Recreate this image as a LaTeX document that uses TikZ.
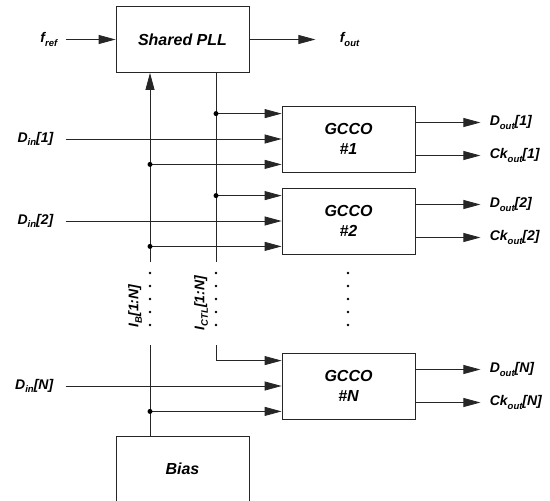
\documentclass[tikz,border=0pt]{standalone}
\usepackage{fontspec}
\setmainfont{Liberation Sans}
\usetikzlibrary{arrows.meta, positioning, calc}

\newcommand{\lsub}[1]{\raisebox{-3.5pt}{\fontsize{9.5}{10}\selectfont #1}}

\tikzset{
  blk/.style={draw, minimum width=133pt, minimum height=66pt, align=center,
    font=\fontsize{16}{20}\selectfont\bfseries\itshape},
  sig/.style={font=\fontsize{14}{16}\selectfont\bfseries\itshape, inner sep=0pt},
  junc/.style={circle, fill, inner sep=0pt, minimum size=5pt},
}

\begin{document}
\begin{tikzpicture}[x=1pt, y=-1pt, line width=0.8pt, draw=black!85,
    >={Triangle[length=17pt,width=9pt]}]
  \useasboundingbox (0,0) rectangle (550,501);

  % Blocks
  \node[blk] (pll) at (182.5,39.5) {Shared PLL};
  \node[blk] (bias) at (182.5,469) {Bias};
  \node[blk] (g1) at (348.5,139) {GCCO\\\#1};
  \node[blk] (g2) at (348.5,221) {GCCO\\\#2};
  \node[blk] (gN) at (348.5,386) {GCCO\\\#N};

  % Reference in, PLL out
  \coordinate (refin) at ($(pll.west)+(-50,0)$);
  \node[sig, left=8pt of refin] (fref) {f\lsub{ref}};
  \draw[->] (refin) -- (pll.west);
  \coordinate (pllout) at ($(pll.east)+(66,0)$);
  \node[sig, right=24pt of pllout] (fout) {f\lsub{out}};
  \draw[->] (pll.east) -- (pllout);

  % Data inputs and outputs of each GCCO
  \foreach \g/\n in {g1/1, g2/2, gN/N} {
    \coordinate (di\n) at ($(\g.west)+(-216,0)$);
    \node[sig, left=12pt of di\n] (din\n) {D\lsub{in}[\n]};
    \draw[->] (di\n) -- (\g.west);
    \coordinate (dq\n) at ($(\g.east)+(65,-16.5)$);
    \coordinate (cq\n) at ($(\g.east)+(65,16.5)$);
    \node[sig, right=9pt of dq\n] (dout\n) {D\lsub{out}[\n]};
    \node[sig, right=9pt of cq\n] (ckout\n) {Ck\lsub{out}[\n]};
    \draw[->] (dq\n -| \g.east) -- (dq\n);
    \draw[->] (cq\n -| \g.east) -- (cq\n);
    \coordinate (ti\n) at ($(\g.north west)+(0,8)$);
    \coordinate (bi\n) at ($(\g.south west)+(0,-8)$);
  }

  % Control and bias buses
  \coordinate (ctlA) at (216,262);
  \coordinate (ctlB) at (216,345);
  \coordinate (ibA) at (150,262);
  \coordinate (ibB) at (150,345);
  \draw (ctlA |- pll.south) -- (ctlA);
  \draw[->] (ibA) -- (ibA |- pll.south);
  \draw (bias.north -| ibB) -- (ibB);
  \draw[->] (ctlB) |- (tiN);
  \foreach \n in {1,2} {
    \draw[->] (ctlA |- ti\n) node[junc] {} -- (ti\n);
    \draw[->] (ibA |- bi\n) node[junc] {} -- (bi\n);
  }
  \draw[->] (ibB |- biN) node[junc] {} -- (biN);

  % Dotted gaps
  \foreach \x in {150,216,348}
    \foreach \y in {273,286,...,325}
      \fill (\x,\y) circle (1.4);

  \node[sig, rotate=90] (iblbl) at (135,306) {I\lsub{B}[1:N]};
  \node[sig, rotate=90] (ctllbl) at (201,303) {I\lsub{CTL}[1:N]};
\end{tikzpicture}
\end{document}
